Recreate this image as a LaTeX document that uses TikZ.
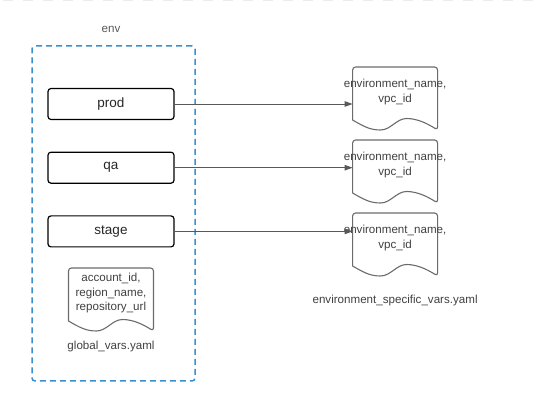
\documentclass[tikz,border=0pt]{standalone}
\usepackage{fontspec}
\setmainfont{Liberation Sans}
\usetikzlibrary{positioning, arrows.meta, calc}

\definecolor{envblue}{HTML}{3A8FCC}
\definecolor{linegray}{HTML}{595959}
\definecolor{docgray}{HTML}{6B6B6B}
\definecolor{txtgray}{HTML}{404040}

\begin{document}
\begin{tikzpicture}[x=1pt, y=1pt,
        envframe/.style={draw=envblue, line width=1.5pt, dash pattern=on 6pt off 4pt, rounded corners=3pt, minimum width=163pt, minimum height=335pt, inner sep=0pt, outer sep=0pt},
        envbox/.style={draw=black, line width=1.2pt, rounded corners=3pt, minimum width=126pt, minimum height=31pt, inner sep=0pt, font=\fontsize{13.5}{16}\selectfont, text=black!85},
        docbox/.style={minimum width=85pt, minimum height=63pt, inner sep=0pt, outer sep=0pt},
        docline/.style={draw=docgray, line width=1.1pt},
        vars/.style={align=center, text=txtgray, font=\fontsize{11.6}{14.5}\selectfont},
        caption/.style={text=txtgray, font=\fontsize{11.6}{14}\selectfont},
        flow/.style={draw=linegray, line width=0.9pt, -{Triangle[length=8pt, width=5.5pt]}}
    ]
        \useasboundingbox (0,0) rectangle (539,410);
        \draw[gray!15, line width=1.5pt, dash pattern=on 10pt off 10pt] (3,409.5) -- (539,409.5);

        \node[envframe] (env) at (113.5,196.5) {};
        \node[caption, above=10pt of env, xshift=-2.5pt, text=black!65] (envname) {env};

        \node[envbox] (prod) at (111,306) {prod};
        \node[envbox, below=31.5pt of prod] (qa) {qa};
        \node[envbox, below=31.5pt of qa] (stage) {stage};

        \node[docbox, right=178pt of prod, yshift=5.5pt] (doc1) {};
        \node[docbox, below=10pt of doc1] (doc2) {};
        \node[docbox, below=10pt of doc2] (doc3) {};
        \node[docbox, below=20.5pt of stage] (glob) {};

        \foreach \n in {doc1,doc2,doc3,glob}
            \draw[docline] ([yshift=10pt]\n.south west) [rounded corners=3pt] -- (\n.north west) -- (\n.north east) -- (\n.south east) [sharp corners]
                .. controls +(-8pt,5pt) and +(12pt,0pt) .. ([xshift=54pt, yshift=11.5pt]\n.south west)
                .. controls +(-10pt,0pt) and +(10pt,0pt) .. ([xshift=28pt]\n.south west)
                .. controls +(-10pt,0pt) and +(12pt,-7pt) .. ([yshift=10pt]\n.south west) -- cycle;

        \foreach \n in {doc1,doc2,doc3}
            \node[vars] (\n-vars) at ([yshift=6.5pt]\n.center) {environment\_name,\\vpc\_id};
        \node[vars] (glob-vars) at ([yshift=6pt]glob.center) {account\_id,\\region\_name,\\repository\_url};

        \node[caption, below=7pt of glob] (globfile) {global\_vars.yaml};
        \node[caption, below=16pt of doc3] (envfile) {environment\_specific\_vars.yaml};

        \draw
            (prod.east) edge[flow] (prod.east -| doc1.west)
            (qa.east) edge[flow] (qa.east -| doc2.west)
            (stage.east) edge[flow] (stage.east -| doc3.west)
            ;
    \end{tikzpicture}
\end{document}
